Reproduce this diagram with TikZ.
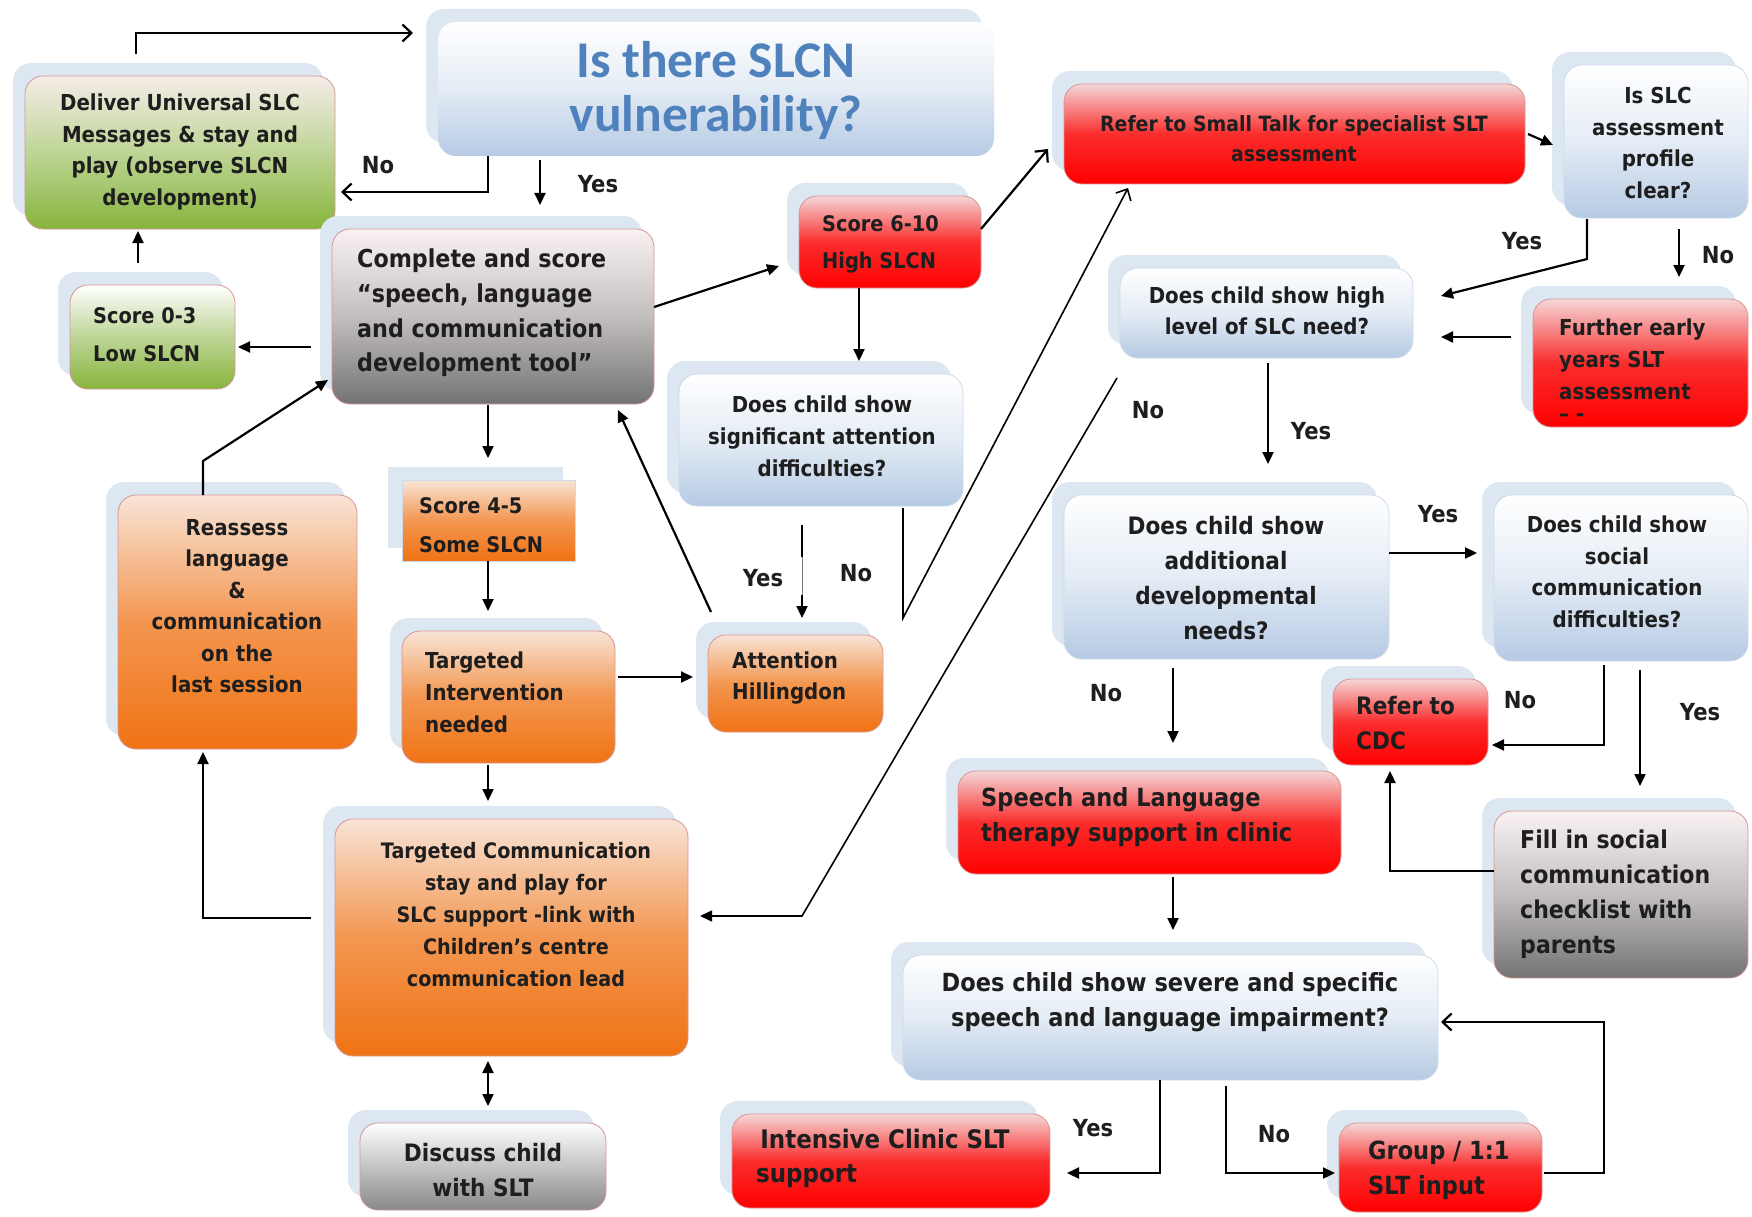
\documentclass[tikz,border=0pt]{standalone}
\usepackage{fontspec}
\setmainfont{DejaVu Sans}[FakeStretch=0.9]
\newfontfamily\titlefont{Carlito}
\usetikzlibrary{arrows.meta,calc,shadows}

\definecolor{shadowblue}{RGB}{221,231,242}
\definecolor{txtcol}{RGB}{30,30,30}
\definecolor{titleblue}{RGB}{79,129,189}
\definecolor{bluebot}{RGB}{182,202,228}
\definecolor{bluemid}{RGB}{228,236,245}
\definecolor{blueedge}{RGB}{205,218,235}
\definecolor{redtop}{RGB}{245,215,215}
\definecolor{redmid}{RGB}{250,45,45}
\definecolor{redbot}{RGB}{255,0,0}
\definecolor{orangetop}{RGB}{248,228,215}
\definecolor{orangemid}{RGB}{243,150,80}
\definecolor{orangebot}{RGB}{240,115,20}
\definecolor{greentop}{RGB}{245,236,232}
\definecolor{greenmid}{RGB}{190,213,150}
\definecolor{greenbot}{RGB}{135,180,60}
\definecolor{graytop}{RGB}{250,242,242}
\definecolor{graymid}{RGB}{195,190,190}
\definecolor{graybot}{RGB}{115,115,115}
\definecolor{warmedge}{RGB}{215,150,150}

\newcommand\mkbox[6]{\node[#2, minimum width={#5-#3}, minimum height={#6-#4}, inner sep=0pt, outer sep=0pt] (#1) at ({(#3+#5)/2},{(#4+#6)/2}) {};}

\tikzset{
  boxbase/.style={rounded corners=18pt, line width=0.8pt,
    general shadow={fill=shadowblue, shadow xshift=-12pt, shadow yshift=13pt}},
  bluebox/.style={boxbase, draw=blueedge, top color=white, bottom color=bluebot, middle color=bluemid},
  redbox/.style={boxbase, draw=warmedge, top color=redtop, bottom color=redbot, middle color=redmid},
  orangebox/.style={boxbase, draw=warmedge, top color=orangetop, bottom color=orangebot, middle color=orangemid},
  greenbox/.style={boxbase, draw=warmedge, top color=greentop, bottom color=greenbot, middle color=greenmid},
  graybox/.style={boxbase, draw=warmedge, top color=graytop, bottom color=graybot, middle color=graymid},
  ln/.style={line width=2.2pt, draw=black},
  arr/.style={ln, -{Triangle[width=11pt,length=12pt]}},
  darr/.style={ln, {Triangle[width=11pt,length=12pt]}-{Triangle[width=11pt,length=12pt]}},
  oarr/.style={ln, -{Straight Barb[width=17pt,length=9pt]}},
  boldtxt/.style={inner sep=0pt, text=txtcol, font=\bfseries\fontsize{22}{31.5}\selectfont},
  bigtxt/.style={inner sep=0pt, text=txtcol, font=\bfseries\fontsize{24.5}{35}\selectfont},
  lbl/.style={inner sep=0pt, text=txtcol, font=\bfseries\fontsize{23.5}{30}\selectfont},
}

\begin{document}
\begin{tikzpicture}[x=1pt,y=-1pt]
\fill[white] (0,0) rectangle (1752,1217);
\useasboundingbox (0,0) rectangle (1752,1217);

% boxes
\mkbox{deliver}{greenbox}{25}{76}{335}{229}
\mkbox{title}{bluebox, draw=none}{438}{22}{994}{156}
\mkbox{complete}{graybox}{332}{229}{654}{404}
\mkbox{score03}{greenbox, top color=white, bottom color=greenbot, middle color=greenmid}{70}{285}{235}{389}
\mkbox{score610}{redbox}{799}{196}{981}{288}
\mkbox{refer}{redbox}{1064}{84}{1525}{184}
\mkbox{isslc}{bluebox}{1564}{65}{1748}{218}
\mkbox{dhigh}{bluebox}{1120}{268}{1413}{358}
\mkbox{further}{redbox}{1533}{299}{1748}{427}
\mkbox{dattn}{bluebox}{679}{374}{963}{506}
\mkbox{score45}{orangebox, rounded corners=0pt, draw=blueedge, general shadow={fill=shadowblue, shadow xshift=-14pt, shadow yshift=13pt}}{402}{480}{575}{561}
\mkbox{reassess}{orangebox}{118}{495}{357}{749}
\mkbox{tint}{orangebox}{402}{631}{615}{763}
\mkbox{attn}{orangebox}{708}{635}{883}{732}
\mkbox{tcomm}{orangebox}{335}{819}{688}{1056}
\mkbox{discuss}{graybox, top color=white, bottom color=graybot!85}{360}{1123}{606}{1210}
\mkbox{daddl}{bluebox}{1064}{495}{1389}{659}
\mkbox{dsocial}{bluebox}{1494}{495}{1748}{661}
\mkbox{cdc}{redbox}{1333}{679}{1488}{765}
\mkbox{speech}{redbox}{958}{771}{1341}{874}
\mkbox{fill}{graybox}{1494}{811}{1748}{978}
\mkbox{dsevere}{bluebox}{903}{955}{1438}{1080}
\mkbox{intensive}{redbox}{732}{1114}{1050}{1208}
\mkbox{group}{redbox}{1339}{1123}{1542}{1212}

% texts
\node[inner sep=0pt, text=titleblue, align=center, font=\titlefont\bfseries\fontsize{51.5}{54}\selectfont] (titleT) at (716,90) {Is there SLCN\\vulnerability?};
\node[boldtxt, align=center] (deliverT) at (180,152) {Deliver Universal SLC\\Messages \& stay and\\play (observe SLCN\\development)};
\node[bigtxt, font=\bfseries\fontsize{24.7}{34.6}\selectfont, align=left, anchor=west] (completeT) at (357,313) {Complete and score\\“speech, language\\and communication\\development tool”};
\node[boldtxt, font=\bfseries\fontsize{21.5}{38}\selectfont, align=left, anchor=west] (score03T) at (93,335) {Score 0-3\\Low SLCN};
\node[boldtxt, font=\bfseries\fontsize{21.5}{37}\selectfont, align=left, anchor=west] (score610T) at (822,244) {Score 6-10\\High SLCN};
\node[boldtxt, font=\bfseries\fontsize{21}{30}\selectfont, align=center] (referT) at (1294,139) {Refer to Small Talk for specialist SLT\\assessment};
\node[boldtxt, align=center] (isslcT) at (1658,143) {Is SLC\\assessment\\profile\\clear?};
\node[boldtxt, align=center] (dhighT) at (1267,311) {Does child show high\\level of SLC need?};
\node[boldtxt, font=\bfseries\fontsize{22}{32}\selectfont, align=left, anchor=west] (furtherT) at (1559,359) {Further early\\years SLT\\assessment};
\node[boldtxt, anchor=west] (furtherX) at (1559,418) {-- -};
\node[boldtxt, font=\bfseries\fontsize{22}{32}\selectfont, align=center] (dattnT) at (822,436) {Does child show\\significant attention\\difficulties?};
\node[boldtxt, font=\bfseries\fontsize{21.5}{39}\selectfont, align=left, anchor=west] (score45T) at (419,525) {Score 4-5\\Some SLCN};
\node[boldtxt, align=center] (reassessT) at (237,606) {Reassess\\language\\\&\\communication\\on the\\last session};
\node[boldtxt, font=\bfseries\fontsize{22}{32}\selectfont, align=left, anchor=west] (tintT) at (425,692) {Targeted\\Intervention\\needed};
\node[boldtxt, align=left, anchor=west] (attnT) at (732,678) {Attention\\Hillingdon};
\node[boldtxt, font=\bfseries\fontsize{21.3}{32}\selectfont, align=center] (tcommT) at (516,915) {Targeted Communication\\stay and play for\\SLC support -link with\\Children’s centre\\communication lead};
\node[bigtxt, font=\bfseries\fontsize{24}{35}\selectfont, align=center] (discussT) at (483,1170) {Discuss child\\with SLT};
\node[bigtxt, font=\bfseries\fontsize{24}{35}\selectfont, align=center] (daddlT) at (1226,578) {Does child show\\additional\\developmental\\needs?};
\node[boldtxt, align=center] (dsocialT) at (1617,572) {Does child show\\social\\communication\\difficulties?};
\node[bigtxt, font=\bfseries\fontsize{24}{35}\selectfont, align=left, anchor=west] (cdcT) at (1356,723) {Refer to\\CDC};
\node[bigtxt, font=\bfseries\fontsize{25}{35}\selectfont, align=left, anchor=west] (speechT) at (981,817) {Speech and Language\\therapy support in clinic};
\node[bigtxt, font=\bfseries\fontsize{24.5}{35}\selectfont, align=left, anchor=west] (fillT) at (1520,894) {Fill in social\\communication\\checklist with\\parents};
\node[bigtxt, font=\bfseries\fontsize{25}{35}\selectfont, align=center] (dsevereT) at (1170,1002) {Does child show severe and specific\\speech and language impairment?};
\node[bigtxt, font=\bfseries\fontsize{25.5}{34}\selectfont, align=left, anchor=west] (intensiveT) at (756,1158) {\,Intensive Clinic SLT\\support};
\node[bigtxt, font=\bfseries\fontsize{25}{35}\selectfont, align=left, anchor=west] (groupT) at (1368,1170) {Group / 1:1\\SLT input};

% connectors
\draw[oarr] ($(deliver.north west)+(111,-22)$) |- ($(title.north west)+(-25,11)$);
\draw[oarr] ($(title.south west)+(50,0)$) |- ($(deliver.south east)+(6,-37)$);
\draw[arr] ($(title.south west)+(102,4)$) -- ($(complete.north west)+(208,-24)$);
\draw[arr] ($(score03.north west)+(68,-22)$) -- ($(deliver.south west)+(113,2)$);
\draw[arr] ($(complete.south west)+(-21,-57)$) -- ($(score03.south east)+(3,-42)$);
\draw[arr] ($(complete.east)+(0,-9.5)$) -- ($(score610.west)+(-20,24)$);
\draw[oarr] ($(score610.east)+(0,-13)$) -- ($(refer.south west)+(-16,-35)$);
\draw[arr] ($(score610.south west)+(60,0)$) -- ($(dattn.north west)+(180,-13)$);
\draw[arr] ($(refer.east)+(3,0)$) -- ($(isslc.west)+(-11,3.5)$);
\draw[arr] ($(isslc.south west)+(23,1)$) -- ++(0,40) -- ($(dhigh.east)+(28,-17)$);
\draw[arr] ($(isslc.south west)+(115,11)$) -- ($(further.north west)+(146,-22)$);
\draw[arr] ($(further.west)+(-22,-26)$) -- ($(dhigh.east)+(28,24)$);
\draw[arr] ($(dhigh.south west)+(148,5)$) -- ($(daddl.north west)+(204,-31)$);
\draw[arr, line width=1.6pt] ($(dhigh.south west)+(-3,20)$) -- (802,916) -- ($(tcomm.east)+(12,-21.5)$);
\draw[ln] ($(dattn.south west)+(123,19)$) -- ++(0,32);
\draw[line width=0.6pt, black!55] ($(dattn.south west)+(123,51)$) -- ($(attn.north west)+(94,-40)$);
\draw[arr] ($(attn.north west)+(94,-40)$) -- ($(attn.north west)+(94,-17)$);
\draw[oarr, line width=1.6pt] ($(dattn.south east)+(-60,2)$) -- ++(0,110) -- ($(refer.south west)+(64,4)$);
\draw[arr] ($(attn.north west)+(3,-23)$) -- ($(complete.south east)+(-36,6)$);
\draw[arr] ($(complete.south west)+(156,1)$) -- ($(score45.north west)+(86,-22)$);
\draw[arr] ($(score45.south west)+(86,0)$) -- ($(tint.north west)+(86,-20)$);
\draw[arr] ($(tint.east)+(3,-20)$) -- ($(attn.west)+(-15,-6.5)$);
\draw[arr] ($(tint.south west)+(86,2)$) -- ($(tcomm.north west)+(153,-18)$);
\draw[arr] ($(tcomm.west)+(-24,-19.5)$) -| ($(reassess.south west)+(85,3)$);
\draw[arr] ($(reassess.north west)+(85,0)$) -- ++(0,-34) -- ($(complete.south west)+(-4,-24)$);
\draw[darr] ($(tcomm.south west)+(153,5)$) -- ($(discuss.north west)+(128,-17)$);
\draw[arr] ($(daddl.east)+(0,-24)$) -- ($(dsocial.west)+(-17,-25)$);
\draw[arr] ($(daddl.south west)+(109,9)$) -- ($(speech.north west)+(215,-28)$);
\draw[arr] ($(dsocial.south west)+(110,4)$) |- ($(cdc.south east)+(4,-20)$);
\draw[arr] ($(dsocial.south west)+(146,9)$) -- ($(fill.north west)+(146,-25)$);
\draw[arr] ($(fill.west)+(0,-23.5)$) -| ($(cdc.south west)+(57,6)$);
\draw[arr] ($(speech.south west)+(215,3)$) -- ($(dsevere.north west)+(270,-25)$);
\draw[arr] ($(dsevere.south west)+(257,0)$) |- ($(intensive.east)+(17,12)$);
\draw[arr] ($(dsevere.south west)+(323,6)$) |- ($(group.west)+(-4,5.5)$);
\draw[oarr] ($(group.east)+(2,5.5)$) -- ++(60,0) |- ($(dsevere.east)+(3,4.5)$);

% labels
\node[lbl] (l1) at (378,165) {No};
\node[lbl] (l2) at (598,184) {Yes};
\node[lbl] (l3) at (763,578) {Yes};
\node[lbl] (l4) at (856,573) {No};
\node[lbl] (l5) at (1148,410) {No};
\node[lbl] (l6) at (1522,241) {Yes};
\node[lbl] (l7) at (1718,255) {No};
\node[lbl] (l8) at (1311,431) {Yes};
\node[lbl] (l9) at (1438,514) {Yes};
\node[lbl] (l10) at (1106,693) {No};
\node[lbl] (l11) at (1520,700) {No};
\node[lbl] (l12) at (1700,712) {Yes};
\node[lbl] (l13) at (1093,1128) {Yes};
\node[lbl] (l14) at (1274,1134) {No};
\end{tikzpicture}
\end{document}
